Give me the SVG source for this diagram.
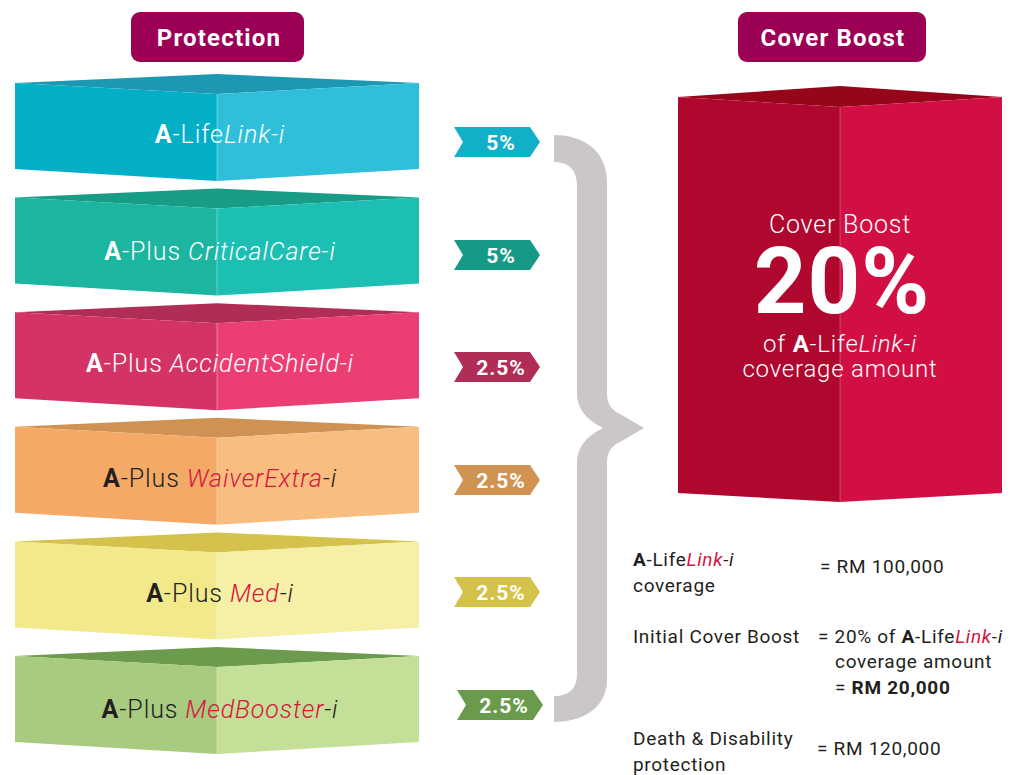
<svg xmlns="http://www.w3.org/2000/svg" width="1020" height="775" viewBox="0 0 1020 775">
<style>
text{font-family:Roboto,"Liberation Sans",sans-serif}
.lbl{font-size:25px;font-weight:300;text-anchor:middle;letter-spacing:0.9px}
.w{fill:#ffffff}
.d{fill:#231F20}
.r{fill:#D6163F}
.b{font-weight:700}
.it{font-style:italic}
.tag{font-size:21px;font-weight:700;fill:#ffffff;text-anchor:middle;letter-spacing:1px}
.hdr{font-size:24px;font-weight:700;fill:#ffffff;text-anchor:middle;letter-spacing:1.2px}
.note{font-size:19px;font-weight:400;fill:#231F20;letter-spacing:0.7px}
.div{stroke:#ffffff;stroke-opacity:0.35;stroke-width:1}
</style>
<defs>
<polygon id="topf" points="217,0 419,9 217,20 15,9"/>
<polygon id="leftf" points="15,9 217,20 217,107 15,95"/>
<polygon id="rightf" points="217,20 419,9 419,95 217,107"/>
<polygon id="tagp" points="0,0 76,0 86,15 76,30 0,30 9,15"/>
</defs>

<g id="hdr-protection">
<rect x="131" y="12" width="173" height="50" rx="9" fill="#9B0055"/>
<text class="hdr" x="219" y="46">Protection</text>
</g>
<g id="hdr-coverboost">
<rect x="738" y="12" width="188" height="50" rx="9" fill="#9B0055"/>
<text class="hdr" x="833" y="46">Cover Boost</text>
</g>

<g id="box1" transform="translate(0,74)">
<use href="#topf" fill="#1E98B2"/><use href="#leftf" fill="#03AEC7"/><use href="#rightf" fill="#30BFDB"/>
<line class="div" x1="217" y1="20" x2="217" y2="107"/>
<text class="lbl w" x="220" y="69"><tspan class="b">A</tspan>-Life<tspan class="it">Link-i</tspan></text>
</g>
<g id="box2" transform="translate(0,188.6)">
<use href="#topf" fill="#189C86"/><use href="#leftf" fill="#1BB5A0"/><use href="#rightf" fill="#1DBFB4"/>
<line class="div" x1="217" y1="20" x2="217" y2="107"/>
<text class="lbl w" x="220" y="71"><tspan class="b">A</tspan>-Plus <tspan class="it">CriticalCare-i</tspan></text>
</g>
<g id="box3" transform="translate(0,303.2)">
<use href="#topf" fill="#B02E55"/><use href="#leftf" fill="#D43465"/><use href="#rightf" fill="#EB3E73"/>
<line class="div" x1="217" y1="20" x2="217" y2="107"/>
<text class="lbl w" x="220" y="69"><tspan class="b">A</tspan>-Plus <tspan class="it">AccidentShield-i</tspan></text>
</g>
<g id="box4" transform="translate(0,417.8)">
<use href="#topf" fill="#CF9252"/><use href="#leftf" fill="#F4AA66"/><use href="#rightf" fill="#F7BE80"/>
<line class="div" x1="217" y1="20" x2="217" y2="107"/>
<text class="lbl d" x="220" y="69"><tspan class="b">A</tspan>-Plus <tspan class="it r">WaiverExtra</tspan><tspan class="it">-i</tspan></text>
</g>
<g id="box5" transform="translate(0,532.4)">
<use href="#topf" fill="#D4C24C"/><use href="#leftf" fill="#F2E98A"/><use href="#rightf" fill="#F6EFA6"/>
<line class="div" x1="217" y1="20" x2="217" y2="107"/>
<text class="lbl d" x="220" y="70"><tspan class="b">A</tspan>-Plus <tspan class="it r">Med</tspan><tspan class="it">-i</tspan></text>
</g>
<g id="box6" transform="translate(0,647)">
<use href="#topf" fill="#6C9B4E"/><use href="#leftf" fill="#A8CB80"/><use href="#rightf" fill="#C4DF97"/>
<line class="div" x1="217" y1="20" x2="217" y2="107"/>
<text class="lbl d" x="220" y="71"><tspan class="b">A</tspan>-Plus <tspan class="it r">MedBooster</tspan><tspan class="it">-i</tspan></text>
</g>

<g id="tags">
<g id="tag1" transform="translate(454,127)"><use href="#tagp" fill="#12AFC8"/><text class="tag" x="47" y="23">5%</text></g>
<g id="tag2" transform="translate(454,240)"><use href="#tagp" fill="#179A85"/><text class="tag" x="47" y="23">5%</text></g>
<g id="tag3" transform="translate(454,352)"><use href="#tagp" fill="#B02E55"/><text class="tag" x="47" y="23">2.5%</text></g>
<g id="tag4" transform="translate(454,465)"><use href="#tagp" fill="#D09352"/><text class="tag" x="47" y="23">2.5%</text></g>
<g id="tag5" transform="translate(454,577)"><use href="#tagp" fill="#D4C24A"/><text class="tag" x="47" y="23">2.5%</text></g>
<g id="tag6" transform="translate(457,690)"><use href="#tagp" fill="#6A9A4C"/><text class="tag" x="47" y="23">2.5%</text></g>
</g>

<g id="connectors">
<path id="brace" fill="#CBC7C6" d="M554,135 C585,135 607,152 607,182 L607,393 C607,405 612,410 620,414 L644,428 L620,442 C612,446 607,451 607,463 L607,680 C607,706 585,722 554,722 L554,696 C570,696 577,688 577,674 L577,463 C577,448 585,437 603,428 C585,419 577,408 577,393 L577,186 C577,171 570,162 554,162 Z"/>
</g>

<g id="coverboost">
<polygon points="840,86 1002,97 840,107 678,97" fill="#960519"/>
<polygon points="678,97 840,107 840,502 678,493" fill="#B0072F"/>
<polygon points="840,107 1002,97 1002,493 840,502" fill="#D20F43"/>
<line x1="840" y1="107" x2="840" y2="502" stroke="#ffffff" stroke-opacity="0.25"/>
<text x="840" y="233" font-size="25" font-weight="300" fill="#ffffff" text-anchor="middle" letter-spacing="0.8">Cover Boost</text>
<text x="842" y="313" font-size="92" font-weight="700" fill="#ffffff" text-anchor="middle" letter-spacing="1">20%</text>
<text x="840" y="352" font-size="24" font-weight="300" fill="#ffffff" text-anchor="middle" letter-spacing="0.8">of <tspan font-weight="700">A</tspan>-Life<tspan font-style="italic">Link-i</tspan></text>
<text x="840" y="377" font-size="24" font-weight="300" fill="#ffffff" text-anchor="middle" letter-spacing="0.8">coverage amount</text>
</g>

<g id="notes">
<text class="note" x="633" y="566"><tspan font-weight="700">A</tspan>-Life<tspan class="it r">Link</tspan><tspan class="it">-i</tspan></text>
<text class="note" x="633" y="592">coverage</text>
<text class="note" x="820" y="573">= RM 100,000</text>
<text class="note" x="633" y="643">Initial Cover Boost</text>
<text class="note" x="818" y="643">= 20% of <tspan font-weight="700">A</tspan>-Life<tspan class="it r">Link</tspan><tspan class="it">-i</tspan></text>
<text class="note" x="835" y="668">coverage amount</text>
<text class="note" x="835" y="694">= <tspan font-weight="700">RM 20,000</tspan></text>
<text class="note" x="633" y="745">Death &amp; Disability</text>
<text class="note" x="633" y="771">protection</text>
<text class="note" x="817" y="755">= RM 120,000</text>
</g>
</svg>
